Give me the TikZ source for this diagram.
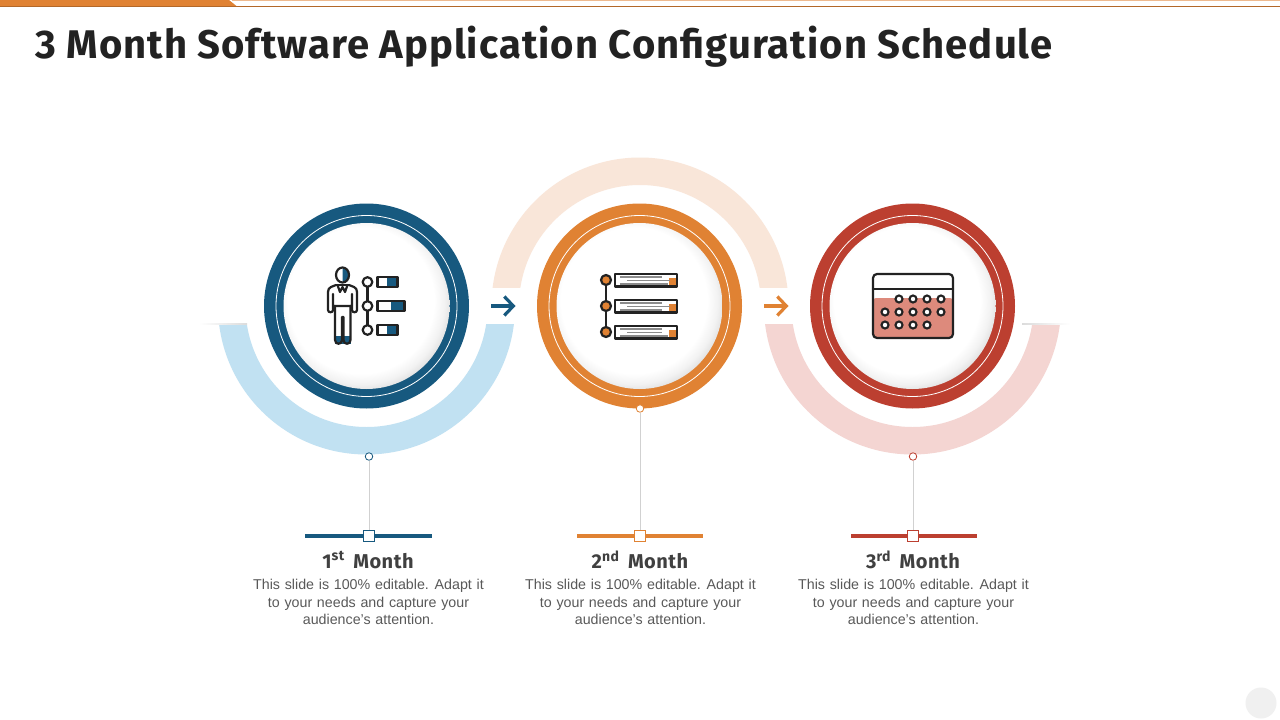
\documentclass[tikz,border=0pt]{standalone}
\usepackage{fontspec}
\setmainfont{Liberation Sans}
\newfontfamily\headfont[LetterSpace=2.6]{Fira Sans}
\usetikzlibrary{arrows.meta}
\definecolor{navy}{HTML}{17597F}
\definecolor{amber}{HTML}{E08233}
\definecolor{brick}{HTML}{BC3F30}
\definecolor{paleblue}{HTML}{C1E1F2}
\definecolor{palepeach}{HTML}{F9E6D9}
\definecolor{palerose}{HTML}{F4D5D2}
\definecolor{rosefill}{HTML}{DD8A7C}
\definecolor{inkline}{HTML}{222222}
\pgfdeclareradialshading{discglow}{\pgfpoint{-3bp}{3bp}}{color(0bp)=(white); color(22bp)=(white); color(25bp)=(white!95!black); color(27.5bp)=(white!87!black); color(30bp)=(white!78!black); color(50bp)=(white!78!black)}
\begin{document}
\begin{tikzpicture}[x=1pt,y=-1pt,
    ringdisc/.style={circle,minimum size=205pt,inner sep=0pt,fill=#1},
    hairring/.style={circle,minimum size=181pt,inner sep=0pt,draw=white,line width=0.8pt},
    centerdisc/.style={circle,minimum size=166pt,inner sep=0pt,shading=discglow},
    stemdot/.style={circle,minimum size=7.5pt,inner sep=0pt,fill=white,draw=#1,line width=0.8pt},
    stemsquare/.style={rectangle,minimum size=11pt,inner sep=0pt,fill=white,draw=#1,line width=0.8pt},
    stemline/.style={draw=black!18,line width=0.7pt},
    barline/.style={draw=#1,line width=3.4pt},
    stepnext/.style={draw=#1,line width=3.2pt,-{Straight Barb[length=9pt,width=19pt,line width=3.2pt]}},
    headtext/.style={font=\headfont\fontsize{20}{22}\selectfont\bfseries,text=black!75},
    bodytext/.style={font=\fontsize{14.25}{17.6}\selectfont,text=black!65,align=center,text width=250pt},
    ink/.style={draw=inkline,line width=2.2pt,line join=round,line cap=round},
    daydot/.style={draw=inkline,line width=2.1pt,fill=white},
    textline/.style={draw=black!45,line width=1.3pt},
  ]
  \useasboundingbox (0,0) rectangle (1280,720);
  \fill[white] (0,0) rectangle (1280,720);
  % top band
  \fill[amber!55!white] (232,0) rectangle (1280,1.2);
  \fill[amber!80!black] (232,5.8) rectangle (1280,7.2);
  \fill[amber] (0,0) -- (229,0) -- (237,6.5) -- (0,6.5) -- cycle;
  \fill[amber!80!black] (0,6) rectangle (237,7.2);
  \node[font=\headfont\fontsize{40}{44}\selectfont\bfseries,text=inkline,anchor=west,inner sep=0pt] (title) at (35,46.5) {3 Month Software Application Configuration Schedule};
  \fill[black!6] (1261,703) circle (15.5);

  % pale arcs
  \begin{scope}
    \clip (200,324) rectangle (530,470);
    \fill[paleblue,even odd rule] (366.5,306) circle (148.5) (366.5,306) circle (121);
  \end{scope}
  \begin{scope}
    \clip (480,140) rectangle (800,287);
    \fill[palepeach,even odd rule] (640,306) circle (148.5) (640,306) circle (121);
  \end{scope}
  \begin{scope}
    \clip (750,324) rectangle (1075,470);
    \fill[palerose,even odd rule] (912.5,306) circle (148.5) (912.5,306) circle (121);
  \end{scope}
  \shade[left color=white,right color=black!14] (199,323.6) rectangle (247,324.4);
  \shade[left color=black!14,right color=white] (1022,323.6) rectangle (1070,324.4);

  % month one
  \node[ringdisc=navy] (ringa) at (366.5,306) {};
  \node[hairring] (hairringa) at (366.5,306) {};
  \node[centerdisc] (disca) at (366.5,306) {};
  % month two
  \node[ringdisc=amber] (ringb) at (639.5,306) {};
  \node[hairring] (hairringb) at (639.5,306) {};
  \node[centerdisc] (discb) at (639.5,306) {};
  % month three
  \node[ringdisc=brick] (ringc) at (912.5,306) {};
  \node[hairring] (hairringc) at (912.5,306) {};
  \node[centerdisc] (discc) at (912.5,306) {};

  % arrows
  \coordinate (arrowastart) at (491,306);
  \coordinate (arrowaend) at (515.5,306);
  \coordinate (arrowbstart) at (764,306);
  \coordinate (arrowbend) at (788.5,306);
  \draw[stepnext=navy] (arrowastart) -- (arrowaend);
  \draw[stepnext=amber] (arrowbstart) -- (arrowbend);

  % stems
  \node[stemdot=navy] (dota) at (369,456.5) {};
  \node[stemdot=amber] (dotb) at (640,408.5) {};
  \node[stemdot=brick] (dotc) at (913,456.5) {};
  \node[stemsquare=navy] (squarea) at (369,536) {};
  \node[stemsquare=amber] (squareb) at (640,536) {};
  \node[stemsquare=brick] (squarec) at (913,536) {};
  \draw[stemline] (dota) -- (squarea);
  \draw[stemline] (dotb) -- (squareb);
  \draw[stemline] (dotc) -- (squarec);
  \coordinate (barastart) at (305,536);
  \coordinate (baraend) at (432,536);
  \coordinate (barbstart) at (577,536);
  \coordinate (barbend) at (703,536);
  \coordinate (barcstart) at (851,536);
  \coordinate (barcend) at (977,536);
  \draw[barline=navy] (barastart) -- (squarea) -- (baraend);
  \draw[barline=amber] (barbstart) -- (squareb) -- (barbend);
  \draw[barline=brick] (barcstart) -- (squarec) -- (barcend);
  \node[stemsquare=navy] at (squarea) {};
  \node[stemsquare=amber] at (squareb) {};
  \node[stemsquare=brick] at (squarec) {};

  % labels
  \node[headtext] (heada) at (368,560) {1\textsuperscript{st}\, Month};
  \node[headtext] (headb) at (640,560) {2\textsuperscript{nd}\, Month};
  \node[headtext] (headc) at (913,560) {3\textsuperscript{rd}\, Month};
  \node[bodytext] (bodya) at (368.5,602) {This slide is 100\% editable.\ \hspace{1pt}Adapt it\\to your needs and capture your\\audience's attention.};
  \node[bodytext] (bodyb) at (640.5,602) {This slide is 100\% editable.\ \hspace{1pt}Adapt it\\to your needs and capture your\\audience's attention.};
  \node[bodytext] (bodyc) at (913.5,602) {This slide is 100\% editable.\ \hspace{1pt}Adapt it\\to your needs and capture your\\audience's attention.};

  % person icon
  \fill[navy] (342.5,267.5) arc[start angle=-90,end angle=90,x radius=6.5,y radius=7.5] -- cycle;
  \draw[ink] (342.5,275) ellipse[x radius=6.5,y radius=7.5];
  \draw[ink] (336,285) -- (331,287) .. controls (329,288) and (328,289.5) .. (328,292) -- (328,310) .. controls (328,313) and (333,313) .. (333,310) -- (333,294) -- (333,306) -- (352,306) -- (352,294) -- (352,310) .. controls (352,313) and (357,313) .. (357,310) -- (357,292) .. controls (357,289.5) and (356,288) .. (354,287) -- (349,285);
  \draw[ink] (336,285) -- (349,285);
  \draw[ink] (337.5,285) -- (340,292) -- (342.5,287) -- (345,292) -- (347.5,285);
  \fill[navy] (335,336) rectangle (351,344);
  \draw[ink] (335,306) -- (335,340) .. controls (335,345) and (342,345) .. (342,340) -- (342,317) -- (343.5,317) -- (343.5,340) .. controls (343.5,345) and (350.5,345) .. (350.5,340) -- (350.5,306);
  % person icon, list
  \draw[ink] (367.5,282) -- (367.5,330);
  \draw[ink,fill=white] (367.5,282) circle (4.8);
  \draw[ink,fill=white] (367.5,306) circle (4.8);
  \draw[ink,fill=white] (367.5,330) circle (4.8);
  \fill[navy] (387,277) rectangle (397.5,287);
  \draw[ink] (377.5,277) rectangle (397.5,287);
  \fill[navy] (391,301) rectangle (404.5,311);
  \draw[ink] (377.5,301) rectangle (404.5,311);
  \fill[navy] (387,325) rectangle (397.5,335);
  \draw[ink] (377.5,325) rectangle (397.5,335);

  % list icon
  \draw[ink] (606,280) -- (606,332);
  \draw[ink,fill=amber] (606,280) circle (5);
  \draw[ink,fill=amber] (606,306) circle (5);
  \draw[ink,fill=amber] (606,332) circle (5);
  \fill[amber] (669,278) rectangle (677,287);
  \draw[ink] (615,274) rectangle (677,286.5);
  \draw[textline] (620,277) -- (662,277);
  \draw[textline] (627,280.5) -- (670,280.5);
  \draw[textline] (620,284) -- (668,284);
  \fill[amber] (669,304) rectangle (677,312);
  \draw[ink] (615,300) rectangle (677,312.5);
  \draw[textline] (620,303) -- (662,303);
  \draw[textline] (627,306.5) -- (670,306.5);
  \draw[textline] (620,310) -- (662,310);
  \fill[amber] (669,330) rectangle (677,338);
  \draw[ink] (615,326) rectangle (677,338.5);
  \draw[textline] (620,329) -- (662,329);
  \draw[textline] (627,332.5) -- (662,332.5);
  \draw[textline] (620,336) -- (668,336);

  % calendar icon
  \fill[rosefill,rounded corners=3pt] (873,298) rectangle (953,338);
  \draw[ink,rounded corners=4pt] (873,274) rectangle (953,338);
  \draw[ink] (873,289) -- (953,289);
  \draw[daydot] (899,299) circle (3.5);
  \draw[daydot] (913,299) circle (3.5);
  \draw[daydot] (927,299) circle (3.5);
  \draw[daydot] (941,299) circle (3.5);
  \draw[daydot] (885,312) circle (3.5);
  \draw[daydot] (899,312) circle (3.5);
  \draw[daydot] (913,312) circle (3.5);
  \draw[daydot] (927,312) circle (3.5);
  \draw[daydot] (941,312) circle (3.5);
  \draw[daydot] (885,325) circle (3.5);
  \draw[daydot] (899,325) circle (3.5);
  \draw[daydot] (913,325) circle (3.5);
  \draw[daydot] (927,325) circle (3.5);
\end{tikzpicture}
\end{document}
